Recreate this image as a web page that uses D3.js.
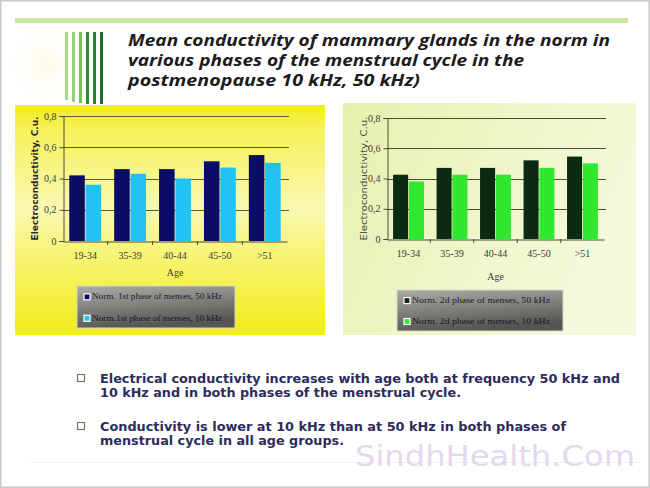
<!DOCTYPE html>
<html>
<head>
<meta charset="utf-8">
<script src="https://cdn.jsdelivr.net/npm/d3@7"></script>
<style>
  html, body { margin: 0; padding: 0; background: #ffffff; }
  svg { display: block; }
</style>
</head>
<body>
<svg id="chart" width="650" height="488"></svg>
<script>
// ---------- DATA ----------
const ages = ["19-34", "35-39", "40-44", "45-50", ">51"];
const phase1_50kHz = [0.42, 0.46, 0.46, 0.51, 0.55];
const phase1_10kHz = [0.36, 0.43, 0.40, 0.47, 0.50];
const phase2_50kHz = [0.425, 0.47, 0.47, 0.52, 0.545];
const phase2_10kHz = [0.38, 0.425, 0.425, 0.47, 0.50];
const yTickValues = [0, 0.2, 0.4, 0.6, 0.8];
const yTickLabels = ["0", "0,2", "0,4", "0,6", "0,8"];
const legendLeft = ["Norm. 1st phase of menses, 50 kHz", "Norm.1st phase of menses, 10 kHz"];
const legendRight = ["Norm. 2d phase of menses, 50 kHz", "Norm. 2d phase of menses, 10 kHz"];
const titleLines = [
  "Mean conductivity of mammary glands in the norm in",
  "various phases of the menstrual cycle in the",
  "postmenopause 10 kHz, 50 kHz)"
];
const bulletLines = [
  ["Electrical conductivity  increases with age both at frequency  50 kHz and",
   "10 kHz and in both phases of the menstrual cycle."],
  ["Conductivity  is lower at 10 kHz than at 50 kHz in both phases of",
   "menstrual cycle in all age groups."]
];

// ---------- SETUP ----------
const svg = d3.select("#chart");
const defs = svg.append("defs");

function linGrad(id, x1, y1, x2, y2, stops) {
  const g = defs.append("linearGradient").attr("id", id)
    .attr("x1", x1).attr("y1", y1).attr("x2", x2).attr("y2", y2);
  stops.forEach(s => g.append("stop").attr("offset", s[0]).attr("stop-color", s[1]));
}
linGrad("gYellow", "0", "0", "0", "1", [["0%", "#f1ec1c"], ["12%", "#f6f260"], ["45%", "#faf8b0"], ["75%", "#f6f25a"], ["100%", "#f1ec18"]]);
linGrad("gGreen", "0", "0", "1", "0.4", [["0%", "#e6f1ad"], ["50%", "#eef5c6"], ["100%", "#f6f9dc"]]);
linGrad("gLegend", "0", "0", "0.3", "1", [["0%", "#acaca6"], ["45%", "#868682"], ["100%", "#555553"]]);
const rg = defs.append("radialGradient").attr("id", "gGlow");
rg.append("stop").attr("offset", "0%").attr("stop-color", "#fcf9e6");
rg.append("stop").attr("offset", "100%").attr("stop-color", "#ffffff").attr("stop-opacity", 0);

// page frame
svg.append("rect").attr("x", 0.5).attr("y", 0.5).attr("width", 649).attr("height", 487)
  .attr("fill", "#ffffff").attr("stroke", "#c8c8c8").attr("stroke-width", 2);

// top green rule
svg.append("rect").attr("x", 15).attr("y", 18).attr("width", 613).attr("height", 5)
  .attr("fill", "#c9e79c");

// glow and decorative vertical bars
svg.append("ellipse").attr("cx", 45).attr("cy", 65).attr("rx", 40).attr("ry", 40).attr("fill", "url(#gGlow)");
const decoBars = [
  {x: 65, c: "#a6da88", top: 32, bottom: 100},
  {x: 72, c: "#92d070", top: 32, bottom: 102},
  {x: 79, c: "#78c256", top: 32, bottom: 103},
  {x: 86, c: "#2e8c34", top: 32, bottom: 104},
  {x: 93, c: "#24802c", top: 32, bottom: 104},
  {x: 100, c: "#1b6e25", top: 32, bottom: 104}
];
svg.selectAll("rect.deco").data(decoBars).join("rect").attr("class", "deco")
  .attr("x", d => d.x).attr("y", d => d.top).attr("width", 3)
  .attr("height", d => d.bottom - d.top).attr("fill", d => d.c);

// title
const titleBase = [46, 66, 86];
const titleLen = [482, 396, 292];
svg.selectAll("text.title").data(titleLines).join("text").attr("class", "title")
  .attr("x", 128).attr("y", (d, i) => titleBase[i])
  .attr("textLength", (d, i) => titleLen[i]).attr("lengthAdjust", "spacingAndGlyphs")
  .attr("font-family", "'Open Sans', 'DejaVu Sans', sans-serif")
  .attr("font-weight", "bold").attr("font-style", "italic").attr("font-size", 16)
  .attr("fill", "#1c1c1c").text(d => d);

// ---------- CHART FUNCTION ----------
function drawChart(cfg) {
  const g = svg.append("g");
  g.append("rect").attr("x", cfg.panel[0]).attr("y", cfg.panel[1])
    .attr("width", cfg.panel[2]).attr("height", cfg.panel[3]).attr("fill", cfg.panelFill);

  const x = d3.scaleBand().domain(ages).range([cfg.x0, cfg.x1])
    .paddingInner(0.29).paddingOuter(0.14);
  const y = d3.scaleLinear().domain([0, 0.8]).range([cfg.y0, cfg.y1]);
  const xs = d3.scaleBand().domain([0, 1]).range([0, x.bandwidth()]).paddingInner(0.05);

  // gridlines
  g.selectAll("line.grid").data(yTickValues.filter(v => v > 0)).join("line")
    .attr("x1", cfg.x0).attr("x2", cfg.x1 + 2)
    .attr("y1", d => Math.round(y(d)) + 0.5).attr("y2", d => Math.round(y(d)) + 0.5)
    .attr("stroke", cfg.gridColor).attr("stroke-width", 1);

  // bars
  const series = [cfg.a, cfg.b];
  series.forEach((vals, si) => {
    g.selectAll("rect.s" + si).data(vals).join("rect")
      .attr("x", (d, i) => x(ages[i]) + xs(si))
      .attr("y", d => y(d))
      .attr("width", xs.bandwidth())
      .attr("height", d => y(0) - y(d))
      .attr("fill", cfg.colors[si]);
  });

  // y axis
  const yAxis = d3.axisLeft(y).tickValues(yTickValues)
    .tickFormat((d, i) => yTickLabels[i]).tickSize(4).tickPadding(3);
  const ya = g.append("g").attr("transform", `translate(${cfg.x0 + 0.5},0)`).call(yAxis);
  ya.select(".domain").attr("stroke", "#4a4a3a");
  ya.selectAll(".tick line").attr("stroke", "#4a4a3a");
  ya.selectAll(".tick text").attr("font-family", "'Liberation Serif', serif")
    .attr("font-size", 10).attr("fill", "#3a3a3a");

  // x axis
  const xAxis = d3.axisBottom(x).tickSize(0).tickPadding(10);
  const xa = g.append("g").attr("transform", `translate(0,${Math.round(y(0)) + 0.5})`).call(xAxis);
  xa.select(".domain").attr("stroke", "#4a4a3a");
  xa.selectAll(".tick text").attr("font-family", "'Liberation Serif', serif")
    .attr("font-size", 10).attr("fill", "#3a3a3a");
  // category separator ticks
  const sep = ages.slice(1).map(a => x(a) - x.step() * x.paddingInner() / 2);
  g.selectAll("line.sep").data(sep).join("line")
    .attr("x1", d => d).attr("x2", d => d)
    .attr("y1", Math.round(y(0))).attr("y2", Math.round(y(0)) + 4)
    .attr("stroke", "#4a4a3a");

  // axis titles
  g.append("text").attr("x", (cfg.x0 + cfg.x1) / 2).attr("y", cfg.ageY)
    .attr("text-anchor", "middle").attr("font-family", "'Liberation Serif', serif")
    .attr("font-size", 10).attr("fill", "#3a3a3a").text("Age");
  g.append("text")
    .attr("transform", `translate(${cfg.yTitleX},${(cfg.y0 + cfg.y1) / 2}) rotate(-90)`)
    .attr("text-anchor", "middle").attr("dominant-baseline", "middle")
    .attr("font-family", "'DejaVu Sans', sans-serif").attr("font-size", 9)
    .attr("font-weight", cfg.yTitleWeight).attr("fill", cfg.yTitleColor)
    .attr("textLength", 124).attr("lengthAdjust", "spacingAndGlyphs")
    .text("Electroconductivity, C.u.");

  // legend
  const L = cfg.legend;
  g.append("rect").attr("x", L[0]).attr("y", L[1]).attr("width", L[2]).attr("height", L[3])
    .attr("fill", "url(#gLegend)").attr("stroke", "#d8d8c8").attr("stroke-width", 1);
  cfg.legendLabels.forEach((lab, i) => {
    const cy = L[1] + L[3] * (i === 0 ? 0.27 : 0.78);
    g.append("rect").attr("x", L[0] + 7).attr("y", cy - 3.5).attr("width", 6).attr("height", 6)
      .attr("fill", cfg.colors[i]).attr("stroke", "#ffffff").attr("stroke-width", 1.2);
    g.append("text").attr("x", L[0] + 15).attr("y", cy).attr("dominant-baseline", "middle")
      .attr("font-family", "'Liberation Serif', serif").attr("font-size", 9)
      .attr("textLength", L[2] - 28).attr("lengthAdjust", "spacingAndGlyphs")
      .attr("fill", i === 0 ? "#1a1a30" : "#15152a").text(lab);
  });
}

drawChart({
  panel: [15, 105, 310, 230], panelFill: "url(#gYellow)",
  x0: 63, x1: 287, y0: 241, y1: 116,
  a: phase1_50kHz, b: phase1_10kHz, colors: ["#0b0c68", "#22c3f2"],
  gridColor: "#5e5c34", ageY: 276, yTitleX: 35, yTitleWeight: "bold", yTitleColor: "#2a2a30",
  legend: [77, 286, 158, 42], legendLabels: legendLeft
});

drawChart({
  panel: [343, 103, 293, 232], panelFill: "url(#gGreen)",
  x0: 387, x1: 604, y0: 239, y1: 118,
  a: phase2_50kHz, b: phase2_10kHz, colors: ["#0c2a11", "#30e830"],
  gridColor: "#4a4a3a", ageY: 280, yTitleX: 364, yTitleWeight: "normal", yTitleColor: "#4a4a4a",
  legend: [397, 290, 166, 41], legendLabels: legendRight
});

// ---------- BULLETS ----------
const bulletBase = [[383, 397], [431, 445]];
const bulletLen = [[520, 361], [466, 244]];
bulletLines.forEach((lines, bi) => {
  svg.append("rect").attr("x", 77.5).attr("y", bulletBase[bi][0] - 8.5)
    .attr("width", 7).attr("height", 7).attr("fill", "none")
    .attr("stroke", "#6f8060").attr("stroke-width", 1.2);
  lines.forEach((ln, li) => {
    svg.append("text").attr("x", 100).attr("y", bulletBase[bi][li])
      .attr("textLength", bulletLen[bi][li]).attr("lengthAdjust", "spacingAndGlyphs")
      .attr("font-family", "'DejaVu Sans', sans-serif").attr("font-weight", "bold")
      .attr("font-size", 12).attr("fill", "#2c2c5c").text(ln);
  });
});

// faint rule and watermark
svg.append("line").attr("x1", 30).attr("x2", 640).attr("y1", 462.5).attr("y2", 462.5)
  .attr("stroke", "#f0f0f0").attr("stroke-width", 1);
svg.append("text").attr("x", 355).attr("y", 466)
  .attr("textLength", 280).attr("lengthAdjust", "spacingAndGlyphs")
  .attr("font-family", "'DejaVu Sans', sans-serif").attr("font-size", 28)
  .attr("fill", "#e3d8ee").text("SindhHealth.Com");
</script>
</body>
</html>
